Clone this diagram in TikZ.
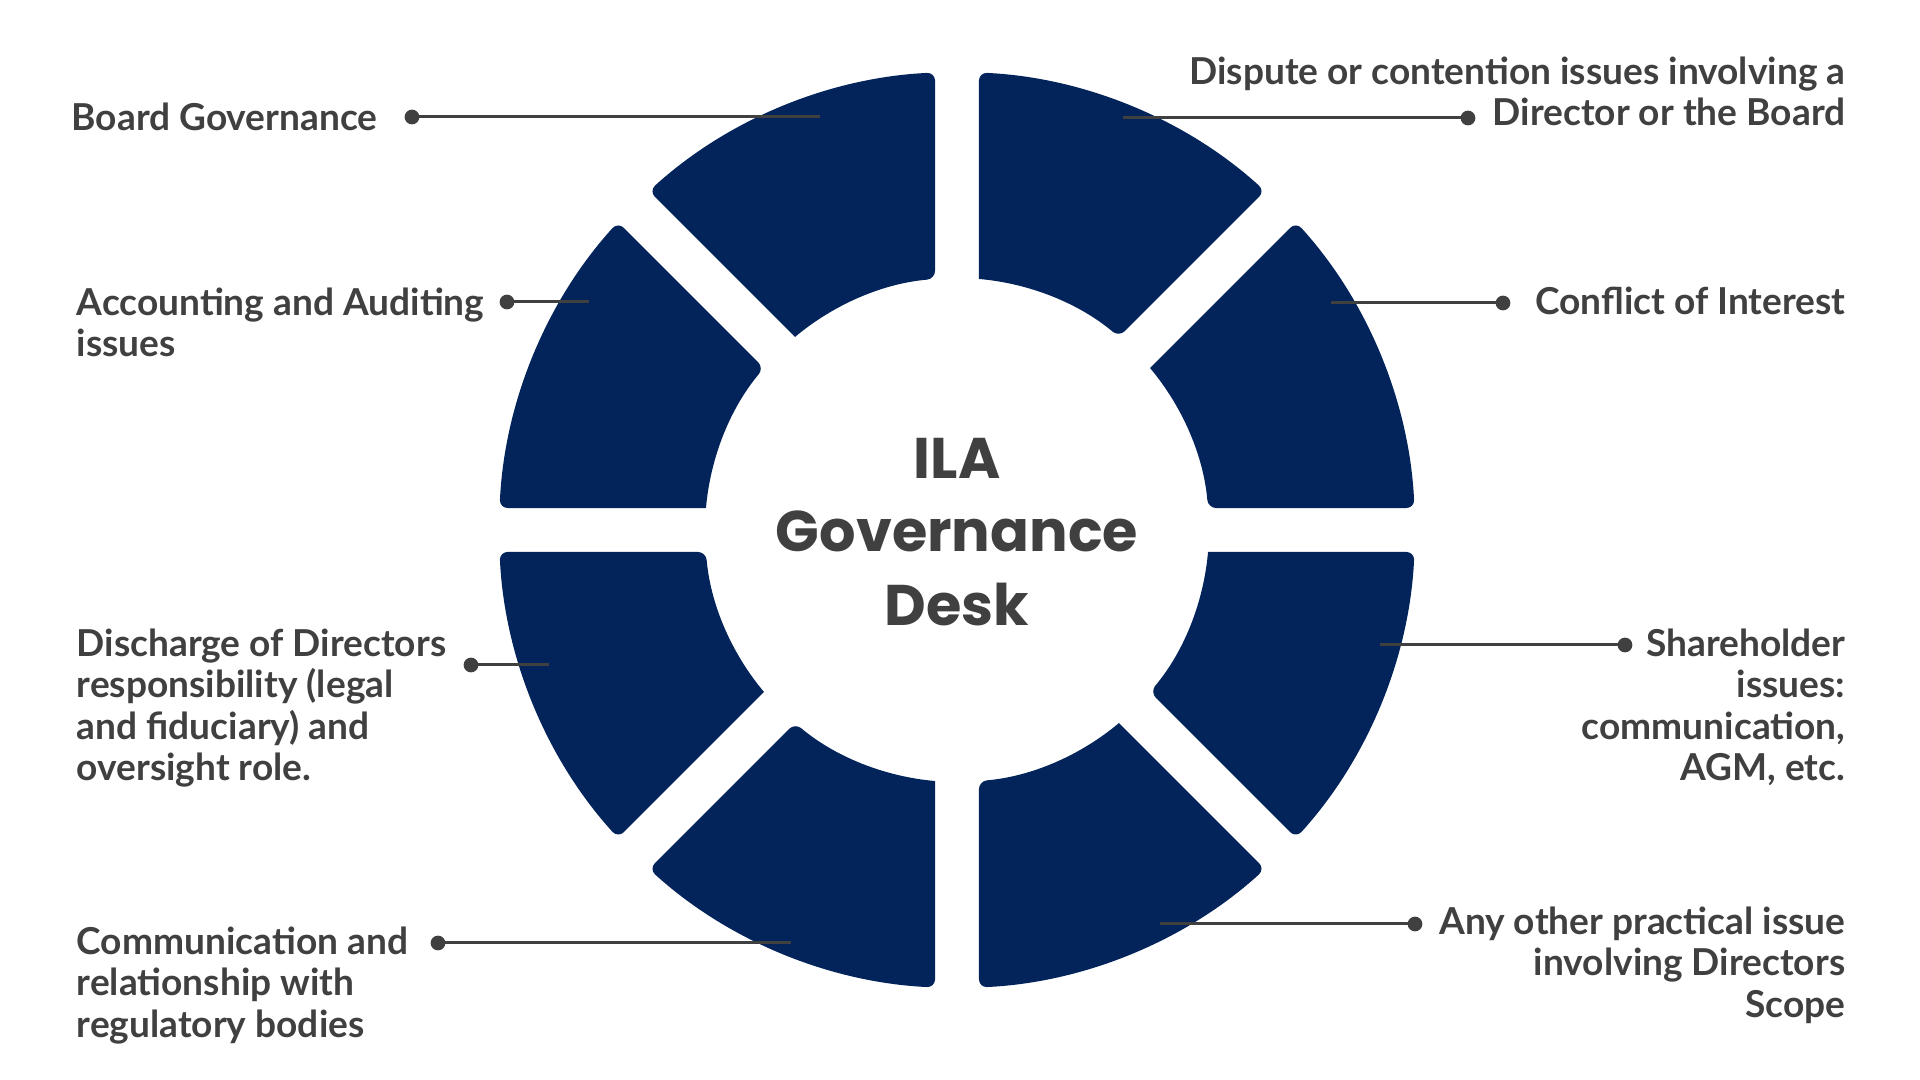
\documentclass[tikz,border=0pt]{standalone}
\usepackage{fontspec}
\setmainfont{Lato}
\newfontfamily\deskfont{Poppins}
\usepackage{tikz}
\usetikzlibrary{positioning}
\definecolor{navy}{RGB}{2,36,90}
\definecolor{ink}{RGB}{64,64,64}
\tikzset{>=latex}

\begin{document}
\begin{tikzpicture}[x=0.01cm, y=-0.01cm,
	seg/.style={fill=navy},
	lbl/.style={inner sep=0pt, text=ink, font=\bfseries\fontsize{10.55}{11.8}\selectfont},
	lft/.style={lbl, align=left, anchor=north west},
	rgt/.style={lbl, align=right, anchor=north east},
	dot/.style={circle, fill=ink, inner sep=0pt, minimum size=4.2pt},
	lead/.style={draw=ink, line width=0.85pt}]
	\useasboundingbox (0,0) rectangle (1920,1080);
	% ring of eight pieces
	\begin{scope}[shift={(957,530)}]
		\foreach \a in {0,45,...,315}
			\fill[seg] (\a+5:252) [rounded corners=2.3pt] -- (\a+2.75:458) arc[start angle=\a+2.75, end angle=\a+42.25, radius=458] -- (\a+40:252) [sharp corners] arc[start angle=\a+40, end angle=\a+5, radius=252] -- cycle;
	\end{scope}
	\node[text=ink, align=center, font=\deskfont\bfseries\fontsize{16.3}{21}\selectfont] (desk) at (957,532) {ILA\\Governance\\Desk};
	% labels on the left
	\node[lft] (board) at (71,102) {Board Governance};
	\node[lft] (acct) at (76,287) {Accounting and Auditing\\issues};
	\node[lft] (disch) at (76,628) {Discharge of Directors\\responsibility (legal\\and fiduciary) and\\oversight role.};
	\node[lft] (comm) at (76,926) {Communication and\\relationship with\\regulatory bodies};
	% labels on the right
	\node[rgt] (disp) at (1846,56) {Dispute or contention issues involving a\\Director or the Board};
	\node[rgt] (coi) at (1846,286) {Conflict of Interest};
	\node[rgt] (share) at (1846,628) {Shareholder\\issues:\\communication,\\AGM, etc.};
	\node[rgt] (other) at (1846,906) {Any other practical issue\\involving Directors\\Scope};
	% leaders
	\node[dot] (d1) at (412,117) {};  \coordinate (e1) at (820,117);
	\node[dot] (d2) at (507,302) {};  \coordinate (e2) at (589,302);
	\node[dot] (d3) at (471,665) {};  \coordinate (e3) at (549,665);
	\node[dot] (d4) at (438,943) {};  \coordinate (e4) at (791,943);
	\node[dot] (d5) at (1468,118) {}; \coordinate (e5) at (1123,118);
	\node[dot] (d6) at (1503,303) {}; \coordinate (e6) at (1331,303);
	\node[dot] (d7) at (1625,645) {}; \coordinate (e7) at (1380,645);
	\node[dot] (d8) at (1415,924) {}; \coordinate (e8) at (1160,924);
	\foreach \i in {1,...,8}
		\draw[lead] (d\i.center) -- (e\i);
\end{tikzpicture}
\end{document}
